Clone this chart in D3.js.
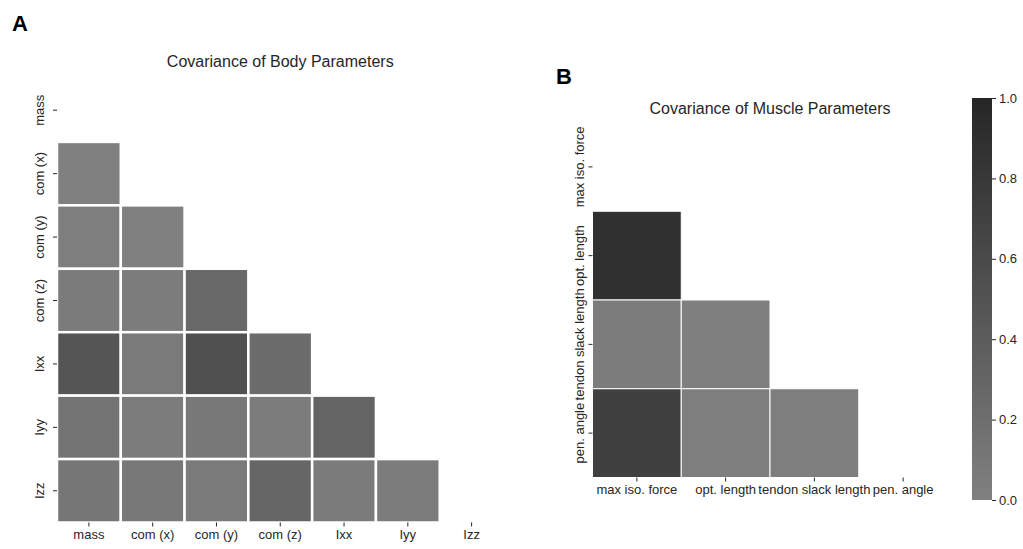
<!DOCTYPE html>
<html>
<head>
<meta charset="utf-8">
<script src="https://cdn.jsdelivr.net/npm/d3@7"></script>
<style>
  body { margin: 0; background: #fff; }
  svg text { font-family: "Liberation Sans", Arial, sans-serif; fill: #262626; }
  .tick line { stroke: #262626; }
</style>
</head>
<body>
<div id="vis"></div>
<script>
// body parameters (panel A)
const bodyLabels = ['mass', 'com (x)', 'com (y)', 'com (z)', 'Ixx', 'Iyy', 'Izz'];
// lower triangle, row by row (row i has i values)
const bodyCov = [
  [],
  [0.00],
  [0.02, 0.00],
  [0.06, 0.04, 0.27],
  [0.48, 0.07, 0.53, 0.22],
  [0.15, 0.05, 0.09, 0.05, 0.31],
  [0.11, 0.09, 0.07, 0.29, 0.06, 0.04]
];

// muscle parameters (panel B)
const muscleLabels = ['max iso. force', 'opt. length', 'tendon slack length', 'pen. angle'];
const muscleCov = [
  [],
  [0.89],
  [0.04, 0.01],
  [0.71, 0.02, 0.02]
];

const cbarTicks = [0, 0.2, 0.4, 0.6, 0.8, 1.0];

const width = 1023;
const height = 549;

const color = d3.scaleLinear()
  .domain([0, 1])
  .range(['#808080', '#262626'])
  .interpolate(d3.interpolateRgb);

const svg = d3.select('#vis')
  .append('svg')
  .attr('width', width)
  .attr('height', height);

// turns the triangle rows into flat cell list
function cells(rows) {
  let out = [];
  rows.forEach((row, i) => {
    row.forEach((v, j) => out.push({ row: i, col: j, value: v }));
  });
  return out;
}

function heatmap(opts) {
  let x = d3.scaleBand().domain(opts.labels).range([opts.x0, opts.x1]);
  let y = d3.scaleBand().domain(opts.labels).range([opts.y0, opts.y1]);

  let g = svg.append('g');

  g.selectAll('rect.cell')
    .data(cells(opts.data))
    .enter().append('rect')
    .attr('class', 'cell')
    .attr('x', d => x(opts.labels[d.col]))
    .attr('y', d => y(opts.labels[d.row]))
    .attr('width', x.bandwidth())
    .attr('height', y.bandwidth())
    .attr('fill', d => color(d.value))
    .attr('stroke', '#fff')
    .attr('stroke-width', opts.lineWidth);

  // x axis
  let xAxis = g.append('g')
    .attr('transform', `translate(0,${opts.y1})`)
    .call(d3.axisBottom(x).tickSize(4).tickPadding(3));
  xAxis.select('.domain').remove();
  xAxis.selectAll('text').style('font-size', '13px');

  // y axis, labels rotated
  let yAxis = g.append('g')
    .attr('transform', `translate(${opts.x0},0)`)
    .call(d3.axisLeft(y).tickSize(4));
  yAxis.select('.domain').remove();
  yAxis.selectAll('text')
    .attr('x', 0)
    .attr('dy', 0)
    .attr('y', -opts.labelGap)
    .attr('transform', 'rotate(-90)')
    .attr('text-anchor', 'middle')
    .style('font-size', '13px');

  g.append('text')
    .attr('x', (opts.x0 + opts.x1) / 2)
    .attr('y', opts.titleY)
    .attr('text-anchor', 'middle')
    .style('font-size', '16px')
    .text(opts.title);
}

heatmap({
  labels: bodyLabels,
  data: bodyCov,
  x0: 57, x1: 503.5, y0: 78.5, y1: 522.5,
  lineWidth: 2.5,
  labelGap: 13,
  titleY: 67,
  title: 'Covariance of Body Parameters'
});

heatmap({
  labels: muscleLabels,
  data: muscleCov,
  x0: 592.5, x1: 947.5, y0: 122.5, y1: 477.5,
  lineWidth: 1,
  labelGap: 9,
  titleY: 114,
  title: 'Covariance of Muscle Parameters'
});

// colorbar
const cbX = 972, cbW = 20, cbTop = 98, cbBottom = 500;
const cbScale = d3.scaleLinear().domain([0, 1]).range([cbBottom, cbTop]);

const grad = svg.append('defs').append('linearGradient')
  .attr('id', 'cbar')
  .attr('x1', 0).attr('y1', 1).attr('x2', 0).attr('y2', 0);
grad.selectAll('stop')
  .data([0, 1])
  .enter().append('stop')
  .attr('offset', d => d)
  .attr('stop-color', d => color(d));

svg.append('rect')
  .attr('x', cbX)
  .attr('y', cbTop)
  .attr('width', cbW)
  .attr('height', cbBottom - cbTop)
  .attr('fill', 'url(#cbar)');

let cbAxis = svg.append('g')
  .attr('transform', `translate(${cbX + cbW},0)`)
  .call(d3.axisRight(cbScale).tickValues(cbarTicks).tickFormat(d3.format('.1f')).tickSize(4).tickPadding(3));
cbAxis.select('.domain').remove();
cbAxis.selectAll('text').style('font-size', '13px');

// panel letters
svg.append('text')
  .attr('x', 12).attr('y', 31)
  .style('font-size', '22px').style('font-weight', 'bold')
  .style('fill', '#000')
  .text('A');
svg.append('text')
  .attr('x', 556).attr('y', 84)
  .style('font-size', '22px').style('font-weight', 'bold')
  .style('fill', '#000')
  .text('B');
</script>
</body>
</html>
